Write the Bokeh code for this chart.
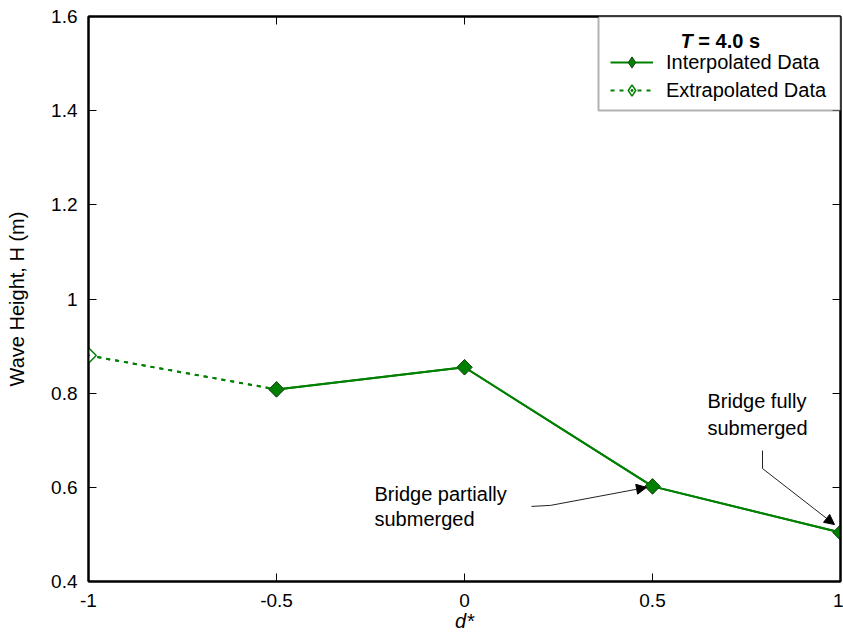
import math
from bokeh.plotting import figure
from bokeh.models import (Range1d, LinearAxis, FixedTicker, CustomJSTickFormatter, Label,
                          Legend, LegendItem, Arrow, NormalHead, BoxAnnotation)
from bokeh.embed import file_html
from bokeh.resources import INLINE

# ---- data ----
x_interp = [-0.5, 0.0, 0.5, 1.0]
h_interp = [0.808, 0.855, 0.602, 0.504]
x_extrap = [-1.0, -0.5]
h_extrap = [0.880, 0.808]
x_ticks = [-1, -0.5, 0, 0.5, 1]
y_ticks = [0.4, 0.6, 0.8, 1.0, 1.2, 1.4, 1.6]
legend_title_T = "T"
legend_title_rest = "= 4.0 s"
legend_labels = ["Interpolated Data", "Extrapolated Data"]
note_partial = ["Bridge partially", "submerged"]
note_full = ["Bridge fully", "submerged"]
x_label = "d*"
y_label = "Wave Height, H (m)"

FONT = "Liberation Sans"
GREEN = "#008000"
X0, X1, Y0, Y1 = -1.0, 1.0, 0.4, 1.6

W, H = 843, 640
BL, BR, BT, BB = 88, 3, 16, 59
FW = W - BL - BR
FH = H - BT - BB
XPX = FW / (X1 - X0)
YPX = FH / (Y1 - Y0)

p = figure(width=W, height=H, x_range=Range1d(X0, X1), y_range=Range1d(Y0, Y1),
           output_backend="svg", toolbar_location=None,
           min_border_left=BL, min_border_right=BR, min_border_top=BT, min_border_bottom=BB,
           background_fill_color="white", border_fill_color="white")
p.xgrid.visible = False
p.ygrid.visible = False
p.outline_line_color = "black"
p.outline_line_width = 2


def style_axis(ax, ticks, labels=True):
    ax.ticker = FixedTicker(ticks=ticks, minor_ticks=[])
    ax.major_tick_in = 8
    ax.major_tick_out = 0
    ax.minor_tick_in = 0
    ax.minor_tick_out = 0
    ax.major_tick_line_color = "black"
    ax.major_tick_line_width = 1
    ax.axis_line_color = "black"
    ax.axis_line_width = 2
    if labels:
        ax.formatter = CustomJSTickFormatter(code="return String(tick)")
        ax.major_label_text_font = FONT
        ax.major_label_text_font_size = "19px"
        ax.major_label_text_color = "black"
        ax.axis_label_text_font = FONT
        ax.axis_label_text_font_size = "20px"
        ax.axis_label_text_color = "black"
    else:
        ax.formatter = CustomJSTickFormatter(code="return ''")
        ax.major_label_text_font_size = "0px"
        ax.major_label_standoff = 0


xa = p.xaxis[0]
style_axis(xa, x_ticks)
xa.major_label_standoff = 12
xa.axis_label = x_label
xa.axis_label_text_font_style = "italic"
xa.axis_label_standoff = 0

ya = p.yaxis[0]
style_axis(ya, y_ticks)
ya.major_label_standoff = 11
ya.axis_label = y_label
ya.axis_label_text_font_style = "normal"
ya.axis_label_standoff = 20

top_ax = LinearAxis()
style_axis(top_ax, x_ticks, labels=False)
p.add_layout(top_ax, "above")
right_ax = LinearAxis()
style_axis(right_ax, y_ticks, labels=False)
p.add_layout(right_ax, "right")

EXT_DASH = "4 5"

# legend swatch renderers (same data, drawn underneath the visible markers)
lg_l_ext = p.line(x_extrap, h_extrap, line_color=GREEN, line_width=2, line_dash=EXT_DASH)
lg_s_ext = p.scatter(x_extrap[:1], h_extrap[:1], marker="diamond_dot", size=15,
                     fill_color="white", line_color=GREEN, line_width=1.5)
lg_l_int = p.line(x_interp, h_interp, line_color=GREEN, line_width=2)
lg_s_int = p.scatter(x_interp, h_interp, marker="diamond", size=15, fill_color=GREEN,
                     line_color="#1e3f1e", line_width=1)

# ---- data glyphs ----
l_ext = p.line(x_extrap, h_extrap, line_color=GREEN, line_width=2, line_dash=EXT_DASH)
s_ext = p.scatter(x_extrap[:1], h_extrap[:1], marker="square_dot", angle=math.pi / 4, size=11,
                  fill_color="white", line_color=GREEN, line_width=1.5)
l_int = p.line(x_interp, h_interp, line_color=GREEN, line_width=2)
s_int = p.scatter(x_interp, h_interp, marker="square", angle=math.pi / 4, size=11,
                  fill_color=GREEN, line_color="#1e3f1e", line_width=1)

# ---- legend ----
box = BoxAnnotation(left=X1 - 242 / XPX, right=X1, top=Y1, bottom=Y1 - 94 / YPX,
                    fill_color="white", fill_alpha=1, line_color="black", line_width=2)
p.add_layout(box)
GH = 28
legend = Legend(items=[LegendItem(label=legend_labels[0], renderers=[lg_l_int, lg_s_int]),
                       LegendItem(label=legend_labels[1], renderers=[lg_l_ext, lg_s_ext])],
                location=(FW - 230, FH - (60 + GH)), padding=0, spacing=0,
                margin=0, glyph_width=43, glyph_height=GH, label_height=GH, label_standoff=13,
                border_line_color=None, background_fill_alpha=0,
                label_text_font=FONT, label_text_font_size="20px", label_text_color="black")
p.add_layout(legend)


def lab(x, y, dx, dy, t, size="20px", style="normal", align="left"):
    p.add_layout(Label(x=x, y=y, x_offset=dx, y_offset=dy, text=t,
                       text_font=FONT, text_font_size=size, text_font_style=style,
                       text_align=align, text_baseline="middle", text_color="black"))


lab(X1, Y1, -160, -24, legend_title_T, style="bold italic")
lab(X1, Y1, -160 + 17.8, -24, legend_title_rest, style="bold")


# ---- annotations ----
def off(x, y, dx, dy):
    return x + dx / XPX, y + dy / YPX


def leader(px, py, pts):
    for i in range(len(pts) - 1):
        xs, ys = off(px, py, *pts[i])
        xe, ye = off(px, py, *pts[i + 1])
        head = NormalHead(size=10, fill_color="black", line_color="black") if i == len(pts) - 2 else None
        p.add_layout(Arrow(end=head, x_start=xs, y_start=ys, x_end=xe, y_end=ye,
                           line_color="#222222", line_width=1))


px, py = x_interp[2], h_interp[2]
for t, dy in zip(note_partial, [-8, -33]):
    lab(px, py, -278, dy, t)
leader(px, py, [(-121, -20), (-102, -19), (-6, -1)])

px, py = x_interp[3], h_interp[3]
for t, dy in zip(note_full, [132, 105]):
    lab(px, py, -133, dy, t)
leader(px, py, [(-78, 82), (-78, 64), (-6, 8)])

open("out.html", "w").write(file_html(p, INLINE))
